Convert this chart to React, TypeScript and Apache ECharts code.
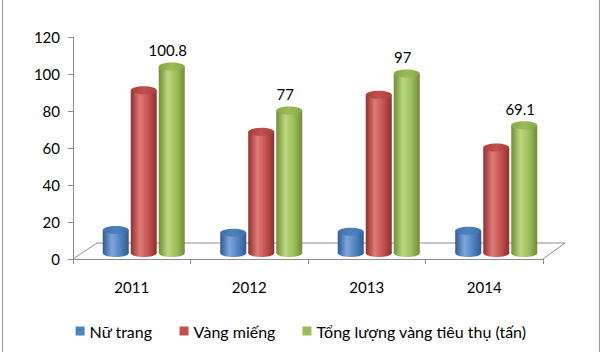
import React, { useEffect, useRef } from "react";
import * as echarts from "echarts";

const categories = ["2011", "2012", "2013", "2014"];
const seriesNames = ["Nữ trang", "Vàng miếng", "Tổng lượng vàng tiêu thụ (tấn)"];
const jewelry = [12.5, 11, 11.5, 12];
const goldBars = [88, 65.5, 85.5, 57];
const totalGold = [100.8, 77, 97, 69.1];
const yTicks = { min: 0, max: 120, interval: 20 };

const W = 602;
const H = 358;
const FONT = "Lato";

// Front axis frame
const G0 = { left: 73, right: 59, top: 37, bottom: 99 };
// Depth offset of the 3D floor
const DX = 12;
const DY = 6;

const palette = [
  { base: "#4F81BD", dark: "#2f5a8f", light: "#7ea6dc", top: "#3f6fae" },
  { base: "#C0504D", dark: "#8e302e", light: "#e07a77", top: "#a83f3c" },
  { base: "#9BBB59", dark: "#6f8c36", light: "#bcd87f", top: "#88a847" },
];

const BAR_W = 26;
const BAR_STEP = 28;

function makeRenderer(si: number, showLabel: boolean) {
  const c = palette[si];
  return (params: any, api: any) => {
    const idx = api.value(0);
    const val = api.value(1);
    const topPt = api.coord([idx, val]);
    const basePt = api.coord([idx, 0]);
    const cx = topPt[0] + (si - 1) * BAR_STEP;
    const x0 = cx - BAR_W / 2;
    const rx = BAR_W / 2;
    const ry = 4;
    const grad = new echarts.graphic.LinearGradient(0, 0, 1, 0, [
      { offset: 0, color: c.dark },
      { offset: 0.35, color: c.light },
      { offset: 0.7, color: c.base },
      { offset: 1, color: c.dark },
    ]);
    const topGrad = new echarts.graphic.LinearGradient(0, 0, 1, 0, [
      { offset: 0, color: c.top },
      { offset: 0.5, color: c.base },
      { offset: 1, color: c.top },
    ]);
    const children: any[] = [
      {
        type: "ellipse",
        shape: { cx, cy: basePt[1], rx, ry },
        style: { fill: grad },
      },
      {
        type: "rect",
        shape: { x: x0, y: topPt[1], width: BAR_W, height: basePt[1] - topPt[1] },
        style: { fill: grad },
      },
      {
        type: "ellipse",
        shape: { cx, cy: topPt[1], rx, ry },
        style: { fill: topGrad },
      },
    ];
    if (showLabel) {
      children.push({
        type: "text",
        style: {
          text: String(val),
          x: cx - 4,
          y: topPt[1] - ry - 5,
          align: "center",
          verticalAlign: "bottom",
          fill: "#000",
          font: `15px ${FONT}`,
        },
      });
    }
    return { type: "group", children };
  };
}

export default function App() {
  const ref = useRef<HTMLDivElement>(null);
  useEffect(() => {
    document.body.style.margin = "0";
    const chart = echarts.init(ref.current!, null, { renderer: "svg" });
    const datasets = [jewelry, goldBars, totalGold];
    const frontY = H - G0.bottom;
    const backY = frontY - 16;
    const frontL = G0.left;
    const frontR = W - G0.right;
    chart.setOption({
      animation: false,
      backgroundColor: "#fff",
      textStyle: { fontFamily: FONT },
      grid: [
        { ...G0 },
        {
          left: G0.left + DX,
          right: G0.right - DX,
          top: G0.top - DY,
          bottom: G0.bottom + DY,
        },
      ],
      xAxis: [
        {
          type: "category",
          gridIndex: 0,
          data: categories,
          boundaryGap: true,
          axisLine: { show: true, lineStyle: { color: "#8c8c8c", width: 1 } },
          axisTick: { show: true, length: 5, lineStyle: { color: "#8c8c8c" } },
          axisLabel: { color: "#000", fontSize: 15, fontFamily: FONT, margin: 20 },
        },
        {
          type: "category",
          gridIndex: 1,
          data: categories,
          show: false,
        },
      ],
      yAxis: [
        {
          type: "value",
          gridIndex: 0,
          ...yTicks,
          axisLine: { show: true, lineStyle: { color: "#8c8c8c", width: 1 } },
          axisTick: { show: true, length: 5, lineStyle: { color: "#8c8c8c" } },
          splitLine: { show: false },
          axisLabel: { color: "#000", fontSize: 15, fontFamily: FONT, margin: 13 },
        },
        {
          type: "value",
          gridIndex: 1,
          ...yTicks,
          show: false,
          splitLine: { show: false },
        },
      ],
      legend: {
        top: 318,
        left: "center",
        itemWidth: 9,
        itemHeight: 9,
        itemGap: 27,
        icon: "rect",
        textStyle: { color: "#000", fontSize: 16, fontFamily: FONT },
        data: seriesNames,
      },
      graphic: [
        {
          type: "polyline",
          shape: {
            points: [
              [frontL, frontY],
              [frontL + 24, backY],
              [frontR + 22, backY],
              [frontR, frontY],
            ],
          },
          style: { stroke: "#8c8c8c", fill: "none", lineWidth: 1 },
          z: 0,
        },
        {
          type: "line",
          shape: { x1: 2.5, y1: 0, x2: 2.5, y2: 352 },
          style: { stroke: "#9a9a9a", lineWidth: 1 },
        },
        {
          type: "line",
          shape: { x1: 599.5, y1: 0, x2: 599.5, y2: 352 },
          style: { stroke: "#9a9a9a", lineWidth: 1 },
        },
      ],
      series: seriesNames.map((name, si) => ({
        name,
        type: "custom",
        xAxisIndex: 1,
        yAxisIndex: 1,
        itemStyle: { color: palette[si].base },
        data: datasets[si].map((v, i) => [i, v]),
        renderItem: makeRenderer(si, si === 2),
        z: 2,
      })),
    });
    return () => chart.dispose();
  }, []);
  return (
    <div
      ref={ref}
      style={{ width: W, height: H, position: "absolute", left: 0, top: 0 }}
    />
  );
}
